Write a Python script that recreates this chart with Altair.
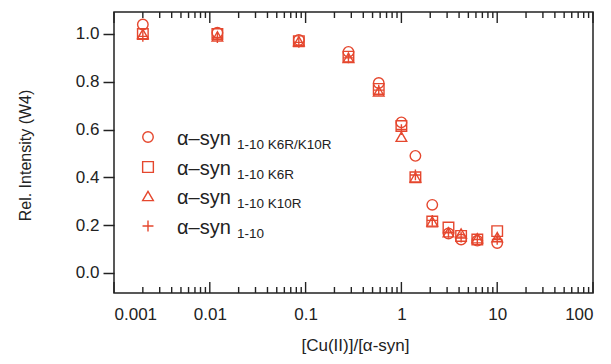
import altair as alt
import pandas as pd

# ---- data ----
ratio = [0.002, 0.012, 0.085, 0.28, 0.58, 1.0, 1.4, 2.1, 3.1, 4.2, 6.2, 10]
k6r_k10r = [1.04, 1.005, 0.975, 0.925, 0.795, 0.63, 0.49, 0.285, 0.165, 0.14, 0.135, 0.125]
k6r = [1.00, 1.00, 0.97, 0.905, 0.77, 0.615, 0.40, 0.215, 0.19, 0.155, 0.14, 0.175]
k10r = [1.00, 0.99, 0.97, 0.90, 0.76, 0.57, 0.40, 0.215, 0.17, 0.165, 0.145, 0.15]
wt = [0.99, 0.985, 0.965, 0.90, 0.765, 0.60, 0.41, 0.22, 0.17, 0.15, 0.14, 0.14]

series_names = ["K6R/K10R", "K6R", "K10R", "WT"]
series_vals = [k6r_k10r, k6r, k10r, wt]
legend_sub = ["1-10 K6R/K10R", "1-10 K6R", "1-10 K10R", "1-10"]

major_ticks = [0.001, 0.01, 0.1, 1, 10, 100]
minor_ticks = [m * d for d in [0.001, 0.01, 0.1, 1, 10] for m in range(2, 10)]
y_ticks = [0.0, 0.2, 0.4, 0.6, 0.8, 1.0]

rows = []
for name, vals in zip(series_names, series_vals):
    for xv, yv in zip(ratio, vals):
        rows.append({"ratio": xv, "val": yv, "series": name})
df = pd.DataFrame(rows)

RED = "#E5472E"
INK = "#222222"
FONT = "Liberation Sans"
W, H = 479, 281
PLUS = "M-1,0H1M0,-1V1"
shapes = ["circle", "square", "triangle-up", PLUS]
sizes = [110, 115, 115, 120]

xscale = alt.Scale(type="log", domain=[0.001, 100])
yscale = alt.Scale(domain=[-0.084, 1.092])

x_axis = alt.Axis(values=major_ticks, format="~g",
                  ticks=False, tickSize=0, domain=False, grid=False,
                  labelPadding=13, labelFontSize=17, labelColor=INK, labelFont=FONT,
                  title="[Cu(II)]/[α-syn]", titleFontSize=17, titleFontWeight="normal",
                  titleFont=FONT, titleColor=INK, titleX=241, titleY=52,
                  titleBaseline="middle")

points = alt.Chart(df).mark_point(filled=False, strokeWidth=1.4, color=RED, opacity=1).encode(
    x=alt.X("ratio:Q", scale=xscale, axis=x_axis),
    y=alt.Y("val:Q", scale=yscale,
            axis=alt.Axis(values=y_ticks, format=".1f", tickSize=11, tickWidth=1.5, tickColor=INK,
                          domain=False, grid=False, labelPadding=4, labelFontSize=17,
                          labelColor=INK, labelFont=FONT,
                          title="Rel. Intensity (W4)", titleFontSize=16, titleFontWeight="normal",
                          titleFont=FONT, titleColor=INK, titleX=-89, titleY=143, titleAngle=-90,
                          titleAlign="center", titleBaseline="middle")),
    shape=alt.Shape("series:N", scale=alt.Scale(domain=series_names, range=shapes), legend=None),
    size=alt.Size("series:N", scale=alt.Scale(domain=series_names, range=sizes), legend=None),
)

maj_df = pd.DataFrame({"v": major_ticks})
min_df = pd.DataFrame({"v": minor_ticks})
one_df = pd.DataFrame({"k": [0]})

def tick_layer(d, y1, y2):
    return alt.Chart(d).mark_rule(color=INK, strokeWidth=1.4).encode(
        x=alt.X("v:Q", scale=xscale, axis=x_axis),
        y=alt.value(y1), y2=alt.value(y2))

ticks = [
    tick_layer(maj_df, H, H - 11),
    tick_layer(min_df, H, H - 6),
    tick_layer(maj_df, 0, 11),
    tick_layer(min_df, 0, 6),
]

# manual legend with subscripts
sym_y = [125, 155, 184, 214]
legend_layers = []
for i in range(4):
    legend_layers.append(
        alt.Chart(one_df).mark_point(filled=False, strokeWidth=1.4, color=RED, opacity=1,
                                      shape=shapes[i], size=sizes[i]).encode(
            x=alt.value(34), y=alt.value(sym_y[i])))
    legend_layers.append(
        alt.Chart(one_df).mark_text(text="α–syn", font=FONT, fontSize=20, fontWeight="normal",
                                     color=INK, align="left", baseline="alphabetic").encode(
            x=alt.value(63), y=alt.value(sym_y[i] + 8)))
    legend_layers.append(
        alt.Chart(one_df).mark_text(text=legend_sub[i], font=FONT, fontSize=13.5, fontWeight="normal",
                                     color=INK, align="left", baseline="alphabetic").encode(
            x=alt.value(123), y=alt.value(sym_y[i] + 12)))

chart = alt.layer(*ticks, points, *legend_layers).properties(
    width=W, height=H,
    autosize=alt.AutoSizeParams(type="none"),
    padding={"left": 106, "top": 4, "right": 10, "bottom": 62},
).configure(
    font=FONT, background="white"
).configure_view(stroke=INK, strokeWidth=1.5)

chart.save("out.html", embed_options={"renderer": "svg", "actions": False})
